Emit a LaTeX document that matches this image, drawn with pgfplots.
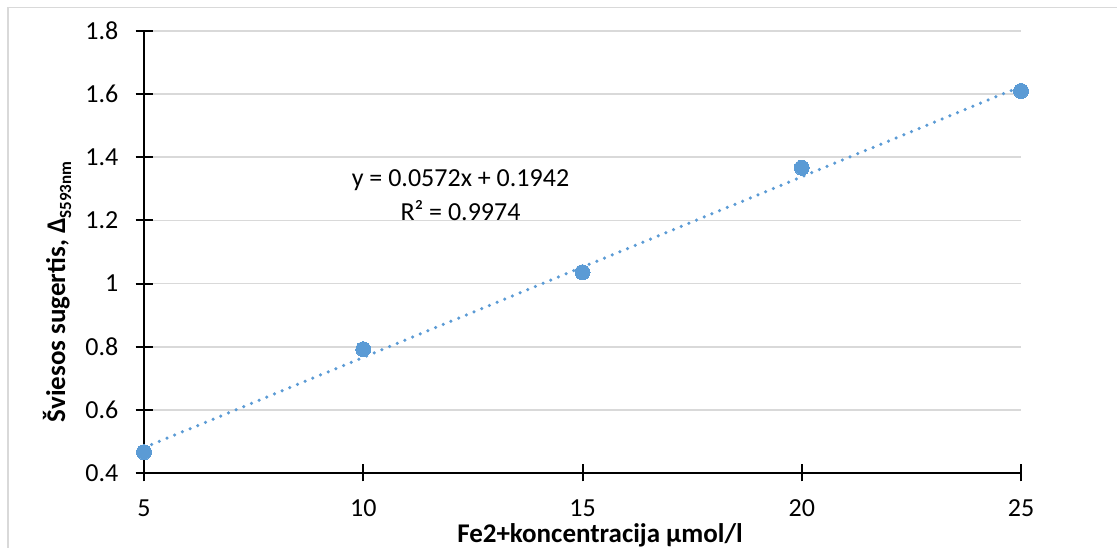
\documentclass[border=0pt]{standalone}
\usepackage{pgfplots}
\pgfplotsset{compat=1.18}
\usepackage{fontspec}
\setmainfont{Carlito}
\definecolor{ptblue}{HTML}{5B9BD5}
\definecolor{gridgray}{HTML}{D9D9D9}

\begin{document}
\begin{tikzpicture}[x=1pt,y=1pt]
\useasboundingbox (0,0) rectangle (1117,548);
\fill[white] (0,0) rectangle (1117,548);
% chart area frame
\draw[gridgray, line width=1.5pt] (8,-2) -- (8,540.5) -- (1119,540.5);
\begin{axis}[
  at={(144pt,75pt)}, anchor=south west,
  scale only axis, width=877pt, height=442pt,
  xmin=5, xmax=25, ymin=0.4, ymax=1.8,
  xtick={5,10,15,20,25},
  ytick={0.4,0.6,0.8,1,1.2,1.4,1.6,1.8},
  axis x line*=bottom, axis y line*=left,
  axis line style={black, line width=2.2pt},
  ymajorgrids, major grid style={gridgray, line width=1.6pt},
  tick align=center, major tick length=17pt,
  tick style={black, line width=2pt},
  /pgf/number format/assume math mode=true,
  ticklabel style={font=\fontsize{26}{31}\selectfont, text=black},
  yticklabel style={anchor=east, inner sep=0pt, xshift=-17pt},
  xticklabel style={anchor=north, inner sep=0pt, yshift=-18pt},
  xlabel={\bfseries Fe2+koncentracija µmol/l},
  xlabel style={font=\fontsize{27}{32}\selectfont, at={(axis description cs:0.52,0)}, anchor=base, yshift=-70pt},
  ylabel={\bfseries Šviesos sugertis, Δ\raisebox{-0.22em}{\fontsize{17}{20}\selectfont S593nm}},
  ylabel style={font=\fontsize{27}{32}\selectfont, at={(axis description cs:-0.090,0.41)}, anchor=base},
  clip=false,
]
% linear trendline y = 0.0572x + 0.1942
\addplot[ptblue, line width=3.5pt, line cap=round, dash pattern=on 0pt off 8.3pt] coordinates {(5,0.4802) (25,1.6242)};
% measured absorbance
\addplot[only marks, mark=*, mark size=7.5pt, mark options={fill=ptblue, draw=ptblue, line width=0pt}] coordinates {
  (5,0.466) (10,0.792) (15,1.036) (20,1.367) (25,1.610)
};
\end{axis}
\node[anchor=base, font=\fontsize{26}{31}\selectfont, inner sep=0pt] at (460.5,361) {y = 0.0572x + 0.1942};
\node[anchor=base, font=\fontsize{26}{31}\selectfont, inner sep=0pt] at (460.5,327) {R² = 0.9974};
\end{tikzpicture}
\end{document}
